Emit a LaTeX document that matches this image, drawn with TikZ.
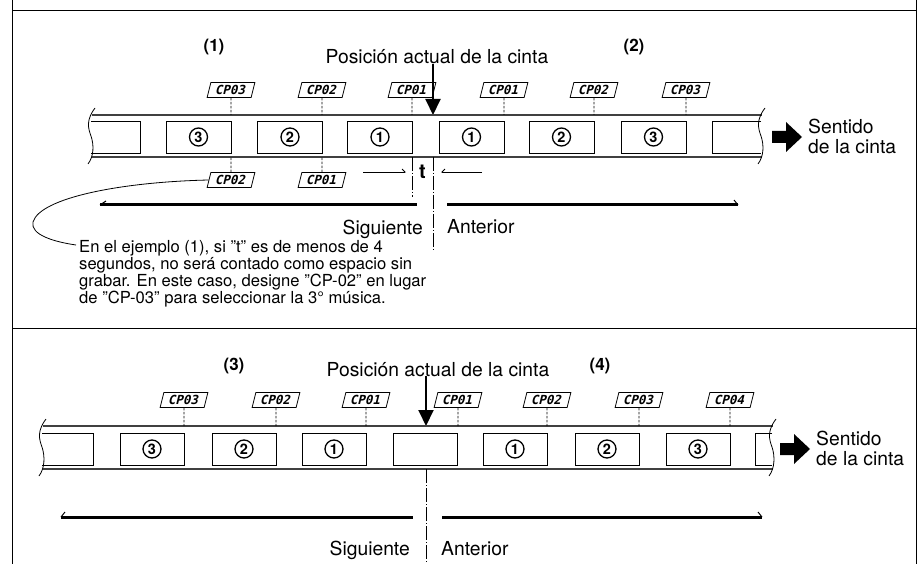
\documentclass[tikz,border=0pt]{standalone}
\usepackage{fontspec}
\setmainfont{TeX Gyre Heros}
\newfontfamily\segfont{DejaVu Sans Mono}
\usetikzlibrary{arrows.meta,positioning}

\tikzset{
  film/.style={draw, line width=0.9pt, minimum width=65pt, minimum height=32pt, inner sep=0pt},
  circnum/.style={circle, draw, line width=1.3pt, minimum size=18pt, inner sep=0pt, font=\fontsize{14.5}{14.5}\selectfont\bfseries},
  cp/.style={draw, line width=0.8pt, xslant=0.25, transform shape, minimum width=44pt, minimum height=15pt, inner sep=0pt, font=\fontsize{12.5}{12.5}\selectfont\segfont\bfseries},
  cpline/.style={dash pattern=on 2.5pt off 1.5pt, line width=0.7pt},
  tape/.style={line width=1.3pt, black!75},
  wave/.style={line width=0.8pt},
  cue/.style={line width=0.8pt, dash pattern=on 14pt off 2pt on 1pt off 2pt},
  thickbar/.style={line width=3pt, line cap=butt},
  hook/.style={line width=1pt},
  lbl/.style={font=\fontsize{19.3}{20}\selectfont, inner sep=0pt},
  tag/.style={font=\fontsize{17}{17}\selectfont\bfseries, inner sep=0pt},
}

\begin{document}
\begin{tikzpicture}[x=1pt,y=-1pt]
    \useasboundingbox (0,0) rectangle (924,564);
    % table lines
    \draw[line width=1pt] (12,0) -- (12,564) (916,0) -- (916,564)
        (12,11) -- (916,11) (12,328) -- (916,328);

    % upper case: (1) and (2)
    \begin{scope}
        \node[tag] (tg1) at (214,47) {(1)};
        \node[tag] (tg2) at (634,47) {(2)};
        \node[lbl, anchor=base] (posa) at (437,64) {Posición actual de la cinta};
        \coordinate (pa) at (433,115);
        \draw[line width=2pt, -{Triangle[width=15pt,length=16pt]}] (posa.south -| pa) -- (pa);

        % tape
        \coordinate (ttopa) at (0,115);
        \coordinate (tbota) at (0,157);
        \draw[tape] (92,115) -- (762,115) (92,157) -- (762,157);
        \foreach \wx in {92,762}
            \draw[wave] (\wx+3,108) .. controls (\wx-6,120) and (\wx-4,128) .. (\wx-1,136)
                .. controls (\wx+2,145) and (\wx+2,156) .. (\wx-4,164);
        \draw[line width=0.9pt] (91,121) -- (140,121) -- (140,153) -- (91,153);
        \draw[line width=0.9pt] (761,121) -- (712,121) -- (712,153) -- (761,153);

        \node[film] (fa3) at (198.5,137) {};
        \node[film] (fa2) at (290,137) {};
        \node[film] (fa1) at (380,137) {};
        \node[film] (fb1) at (471.5,137) {};
        \node[film] (fb2) at (561.5,137) {};
        \node[film] (fb3) at (653.5,137) {};
        \node[circnum] (na3) at (fa3) {3};
        \node[circnum] (na2) at (fa2) {2};
        \node[circnum] (na1) at (fa1) {1};
        \node[circnum] (nb1) at (fb1) {1};
        \node[circnum] (nb2) at (fb2) {2};
        \node[circnum] (nb3) at (fb3) {3};

        % index marks
        \node[cp] (la3) at (231,90) {CP03};
        \node[cp] (la2) at (322,90) {CP02};
        \node[cp] (la1) at (412,90) {CP01};
        \node[cp] (lb1) at (504,90) {CP01};
        \node[cp] (lb2) at (594,90) {CP02};
        \node[cp] (lb3) at (686,90) {CP03};
        \node[cp] (ua2) at (231,180) {CP02};
        \node[cp] (ua1) at (322,180) {CP01};
        \foreach \n in {la3,la2,la1,lb1,lb2,lb3}
            \draw[cpline] (\n) -- (\n |- ttopa);
        \foreach \n in {ua2,ua1}
            \draw[cpline] (\n) -- (\n |- tbota);

        % gap t
        \coordinate (gta) at (412,157);
        \coordinate (gtb) at (412,197);
        \coordinate (gtc) at (433,157);
        \coordinate (gtd) at (433,250);
        \draw[cue] (gta) -- (gtb);
        \draw[cue] (gtc) -- (gtd);
        \node[font=\fontsize{20}{20}\selectfont\bfseries, inner sep=0pt] (tgap) at (422.5,172) {t};
        \coordinate (da) at (363,172);
        \coordinate (db) at (482,172);
        \draw[line width=0.8pt, -{Straight Barb[left,length=3pt,width=6pt]}] (da) -- ([xshift=-6pt]da -| gta);
        \draw[line width=0.8pt, -{Straight Barb[right,length=3pt,width=6pt]}] (db) -- ([xshift=8pt]db -| gtc);

        % Siguiente / Anterior
        \coordinate (sa) at (100,205);
        \coordinate (sb) at (417,205);
        \coordinate (sc) at (447,205);
        \coordinate (sd) at (738,205);
        \draw[thickbar] (sa) -- (sb);
        \draw[thickbar] (sc) -- (sd);
        \draw[hook] (sa) -- ++(6,-4);
        \draw[hook] (sd) -- ++(-4,-5);
        \node[lbl, anchor=base east] (siga) at (423,235) {Siguiente};
        \node[lbl, anchor=base west] (anta) at (447,234) {Anterior};

        % direction
        \fill (772,131) -- (786,131) -- (786,122) -- (802,137) -- (786,152) -- (786,143) -- (772,143) -- cycle;
        \node[lbl, anchor=west, align=left] (sena) at (808,136) {Sentido\\de la cinta};

        % note
        \node[anchor=north west, align=left, inner sep=0pt, font=\fontsize{16.6}{15.4}\selectfont] (note) at (79,240)
            {En el ejemplo (1), si "t" es de menos de 4\\segundos, no será contado como espacio sin\\grabar. En este caso, designe "CP-02" en lugar\\de "CP-03" para seleccionar la 3° música.};
        \draw[line width=0.8pt] (ua2.west) .. controls (120,182) and (40,198) .. (33,222)
            .. controls (30,235) and (55,242) .. ([xshift=-3pt,yshift=-5pt]note.north west);
    \end{scope}

    % lower case: (3) and (4)
    \begin{scope}[shift={(0,311)}]
        \node[tag] (tg3) at (234,55) {(3)};
        \node[tag] (tg4) at (600,55) {(4)};
        \node[lbl, anchor=base] (posb) at (438,65) {Posición actual de la cinta};
        \coordinate (pb) at (426,115);
        \draw[line width=2pt, -{Triangle[width=15pt,length=16pt]}] (posb.south -| pb) -- (pb);

        % tape
        \coordinate (ttopb) at (0,115);
        \draw[tape] (43,115) -- (773,115) (43,158) -- (773,158);
        \foreach \wx in {43,773}
            \draw[wave] (\wx+3,108) .. controls (\wx-6,120) and (\wx-4,128) .. (\wx-1,136)
                .. controls (\wx+2,145) and (\wx+2,157) .. (\wx-4,165);
        \draw[line width=0.9pt] (42,122) -- (93,122) -- (93,154) -- (42,154);
        \draw[line width=0.9pt] (772,122) -- (755,122) -- (755,154) -- (772,154);

        \node[film, minimum width=64pt] (fc3) at (152,138) {};
        \node[film, minimum width=64pt] (fc2) at (244,138) {};
        \node[film, minimum width=64pt] (fc1) at (334,138) {};
        \node[film, minimum width=64pt] (fc0) at (425.5,138) {};
        \node[film, minimum width=64pt] (fd1) at (515,138) {};
        \node[film, minimum width=64pt] (fd2) at (607,138) {};
        \node[film, minimum width=64pt] (fd3) at (698,138) {};
        \node[circnum] (nc3) at (fc3) {3};
        \node[circnum] (nc2) at (fc2) {2};
        \node[circnum] (nc1) at (fc1) {1};
        \node[circnum] (nd1) at (fd1) {1};
        \node[circnum] (nd2) at (fd2) {2};
        \node[circnum] (nd3) at (fd3) {3};

        % index marks
        \node[cp] (lc3) at (184,89) {CP03};
        \node[cp] (lc2) at (276,89) {CP02};
        \node[cp] (lc1) at (366,89) {CP01};
        \node[cp] (ld1) at (458,89) {CP01};
        \node[cp] (ld2) at (547,89) {CP02};
        \node[cp] (ld3) at (639,89) {CP03};
        \node[cp] (ld4) at (730,89) {CP04};
        \foreach \n in {lc3,lc2,lc1,ld1,ld2,ld3,ld4}
            \draw[cpline] (\n) -- (\n |- ttopb);

        \coordinate (gte) at (426,158);
        \coordinate (gtf) at (426,252);
        \draw[cue] (gte) -- (gtf);

        % Siguiente / Anterior
        \coordinate (se) at (61,206);
        \coordinate (sf) at (413,206);
        \coordinate (sg) at (442,206);
        \coordinate (sh) at (762,206);
        \draw[thickbar] (se) -- (sf);
        \draw[thickbar] (sg) -- (sh);
        \draw[hook] (se) -- ++(4,-5);
        \draw[hook] (sh) -- ++(-4,-5);
        \node[lbl, anchor=base east] (sigb) at (410,244) {Siguiente};
        \node[lbl, anchor=base west] (antb) at (441,244) {Anterior};

        % direction
        \fill (780,132) -- (794,132) -- (794,123) -- (810,138) -- (794,153) -- (794,144) -- (780,144) -- cycle;
        \node[lbl, anchor=west, align=left] (senb) at (816,137) {Sentido\\de la cinta};
    \end{scope}
\end{tikzpicture}
\end{document}
